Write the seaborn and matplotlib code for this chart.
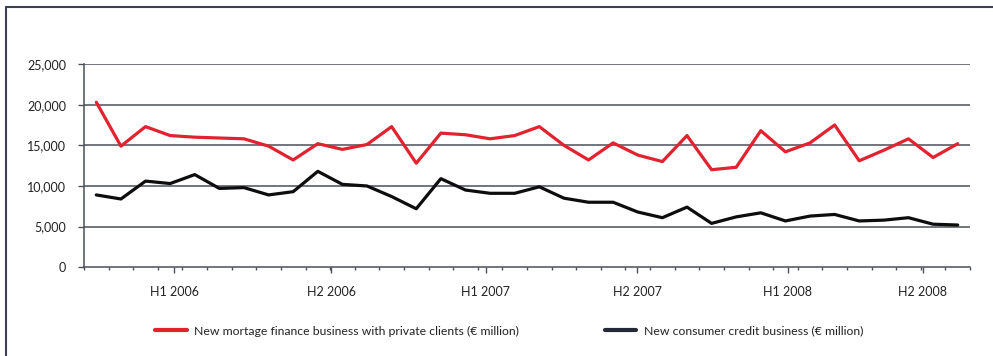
import matplotlib
matplotlib.use("Agg")
import matplotlib.pyplot as plt
import numpy as np
import pandas as pd
import seaborn as sns
from matplotlib.lines import Line2D
from matplotlib.ticker import FixedLocator, FuncFormatter

# Monthly new business volumes, Jan 2006 - Dec 2008 (EUR million)
months = pd.period_range("2006-01", "2008-12", freq="M").astype(str).tolist()
mortgage = [20300, 14900, 17300, 16200, 16000, 15900, 15800, 14900, 13200, 15200,
            14500, 15100, 17300, 12800, 16500, 16300, 15800, 16200, 17300, 15000,
            13200, 15300, 13800, 13000, 16200, 12000, 12300, 16800, 14200, 15300,
            17500, 13100, 14400, 15800, 13500, 15200]
consumer = [8900, 8400, 10600, 10300, 11400, 9700, 9800, 8900, 9300, 11800,
            10200, 10000, 8700, 7200, 10900, 9500, 9100, 9100, 9900, 8500,
            8000, 8000, 6800, 6100, 7400, 5400, 6200, 6700, 5700, 6300,
            6500, 5700, 5800, 6100, 5300, 5200]
series_names = ["New mortage finance business with private clients (€ million)",
                "New consumer credit business (€ million)"]
half_year_labels = ["H1 2006", "H2 2006", "H1 2007", "H2 2007", "H1 2008", "H2 2008"]
y_ticks = [0, 5000, 10000, 15000, 20000, 25000]

RED = "#e2232f"
BLACK = "#0d0d0d"
GRID = "#4b5059"

sns.set_theme(style="white")
plt.rcParams["font.family"] = ["Lato", "DejaVu Sans"]

W, H = 993, 356
fig = plt.figure(figsize=(W / 100, H / 100), dpi=100)
ax = fig.add_axes([84 / W, (H - 267.3) / H, 886 / W, (267.3 - 64) / H])

df = pd.DataFrame({"month": months, "idx": np.arange(len(months)),
                   series_names[0]: mortgage, series_names[1]: consumer})
long = df.melt(id_vars=["month", "idx"], value_vars=series_names,
               var_name="series", value_name="value")

sns.lineplot(data=long, x="idx", y="value", hue="series",
             palette={series_names[0]: RED, series_names[1]: BLACK},
             linewidth=2.3, legend=False, ax=ax, zorder=3)

ax.set_xlim(-0.5, len(months) - 0.5)
ax.set_ylim(0, 25000)
ax.set_xlabel("")
ax.set_ylabel("")

# y axis: thousands separators and horizontal rules
ax.yaxis.set_major_locator(FixedLocator(y_ticks))
ax.yaxis.set_major_formatter(FuncFormatter(lambda v, _: f"{int(v):,}"))
for v in y_ticks[1:]:
    ax.axhline(v, color=GRID, lw=1.1, zorder=1)

# x axis: month boundaries as minor ticks, half-year labels as major ticks
label_pos = [3.16, 9.54, 15.83, 21.97, 28.1, 33.59]
ax.xaxis.set_major_locator(FixedLocator(label_pos))
ax.set_xticklabels(half_year_labels)
ax.xaxis.set_minor_locator(FixedLocator(np.arange(-0.5, len(months), 1.0)))

ax.tick_params(axis="y", which="major", length=4, width=1, color=GRID,
               pad=9, labelsize=9, labelcolor="#222222", left=True)
ax.tick_params(axis="x", which="major", length=4.5, width=1, color=GRID,
               pad=9, labelsize=9, labelcolor="#222222", bottom=True)
ax.tick_params(axis="x", which="minor", length=2.5, width=1, color=GRID, bottom=True)

for side in ["top", "right"]:
    ax.spines[side].set_visible(False)
for side in ["left", "bottom"]:
    ax.spines[side].set_color(GRID)
    ax.spines[side].set_linewidth(1.1)
    ax.spines[side].set_zorder(2)

# legend below the plot
handles = [Line2D([], [], color=RED, lw=3),
           Line2D([], [], color="#232a35", lw=3)]
fig.legend(handles, series_names, loc="center", bbox_to_anchor=(509 / W, 1 - 331 / H),
           ncol=2, frameon=False, fontsize=8.8, handlelength=2.6, handletextpad=0.6,
           columnspacing=7.0, labelcolor="#222222")

# outer frame (top and left edges)
frame_kw = dict(color="#3a4150", lw=1.5, transform=fig.transFigure)
fig.add_artist(Line2D([6 / W, 1.0], [1 - 6.5 / H, 1 - 6.5 / H], **frame_kw))
fig.add_artist(Line2D([6 / W, 6 / W], [0.0, 1 - 6.5 / H], **frame_kw))

fig.savefig("out.png", dpi=100)
